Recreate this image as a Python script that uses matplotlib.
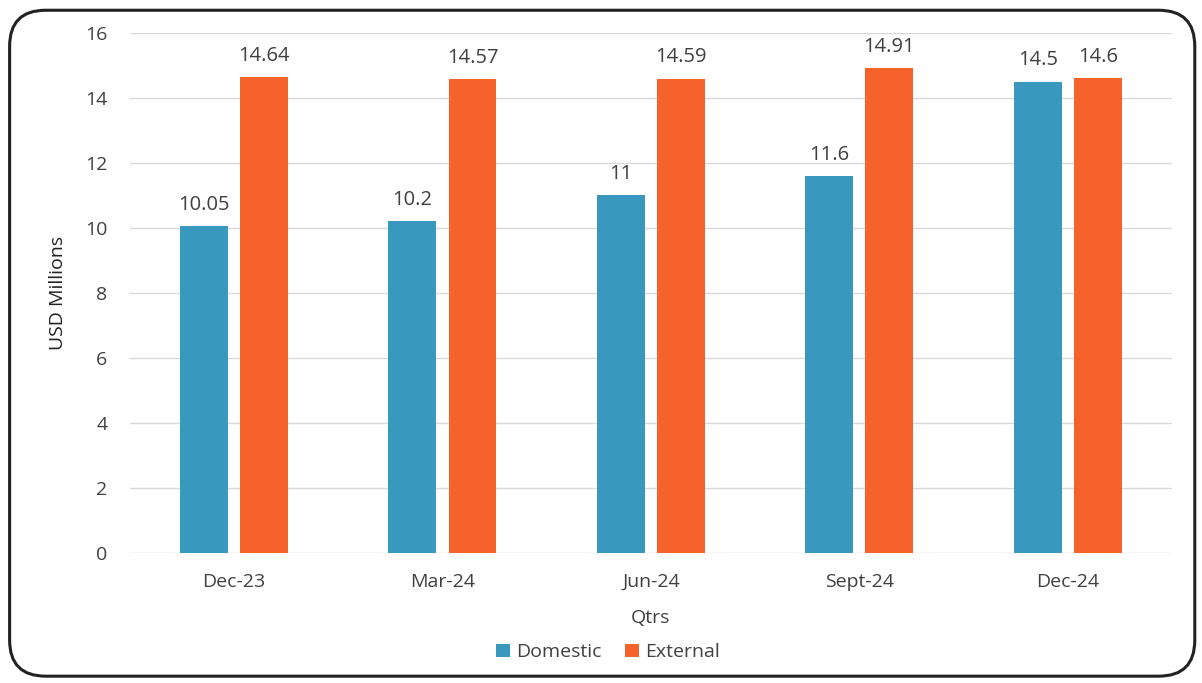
import matplotlib
matplotlib.use("Agg")
import matplotlib.pyplot as plt
from matplotlib.patches import FancyBboxPatch
import numpy as np

plt.rcParams['font.family'] = ['Open Sans', 'DejaVu Sans']

quarters = ['Dec-23', 'Mar-24', 'Jun-24', 'Sept-24', 'Dec-24']
domestic = [10.05, 10.2, 11, 11.6, 14.5]
external = [14.64, 14.57, 14.59, 14.91, 14.6]
domestic_labels = ['10.05', '10.2', '11', '11.6', '14.5']
external_labels = ['14.64', '14.57', '14.59', '14.91', '14.6']

blue = '#3a97bd'
orange = '#f5622b'
text_col = '#404040'


def main():
    fig = plt.figure(figsize=(12.02, 6.83), dpi=100)
    ax = fig.add_axes([0.108, 0.19, 0.867, 0.762])

    x = np.arange(len(quarters))
    w = 0.23
    off = 0.144
    b1 = ax.bar(x - off, domestic, w, color=blue, label='Domestic', zorder=2)
    b2 = ax.bar(x + off, external, w, color=orange, label='External', zorder=2)

    for bars, labels in ((b1, domestic_labels), (b2, external_labels)):
        for rect, lab in zip(bars, labels):
            ax.text(rect.get_x() + rect.get_width() / 2, rect.get_height() + 0.35,
                    lab, ha='center', va='bottom', fontsize=14.5, color=text_col)

    ax.set_xlim(-0.5, len(quarters) - 0.5)
    ax.set_ylim(0, 16)
    ax.set_yticks(range(0, 17, 2))
    ax.set_xticks(x)
    ax.set_xticklabels(quarters)
    ax.tick_params(axis='both', length=0, labelsize=14, colors=text_col)
    ax.tick_params(axis='y', pad=16)
    ax.tick_params(axis='x', pad=14)
    ax.grid(axis='y', color='#d9d9d9', linewidth=1, zorder=0)
    for s in ax.spines.values():
        s.set_visible(False)

    ax.set_ylabel('USD Millions', fontsize=14, color='#222222')
    ax.yaxis.label.set_va('center')
    ax.yaxis.set_label_coords(-0.069, 0.5)
    ax.set_xlabel('Qtrs', fontsize=14, color=text_col)
    ax.xaxis.label.set_va('center')
    ax.xaxis.set_label_coords(0.5, -0.125)

    ax.legend(loc='center', bbox_to_anchor=(0.459, -0.19), ncol=2,
              frameon=False, fontsize=14, handlelength=0.7, handleheight=0.7,
              handletextpad=0.35, columnspacing=1.2, labelcolor=text_col)

    # rounded frame around the whole chart
    frame = FancyBboxPatch((0.008, 0.01), 0.986, 0.975,
                           boxstyle='round,pad=0,rounding_size=0.03',
                           transform=fig.transFigure, fill=False,
                           edgecolor='#222222', linewidth=2.2,
                           mutation_aspect=1202 / 683)
    fig.patches.append(frame)

    fig.savefig('out.png', dpi=100)


if __name__ == "__main__":
    main()
